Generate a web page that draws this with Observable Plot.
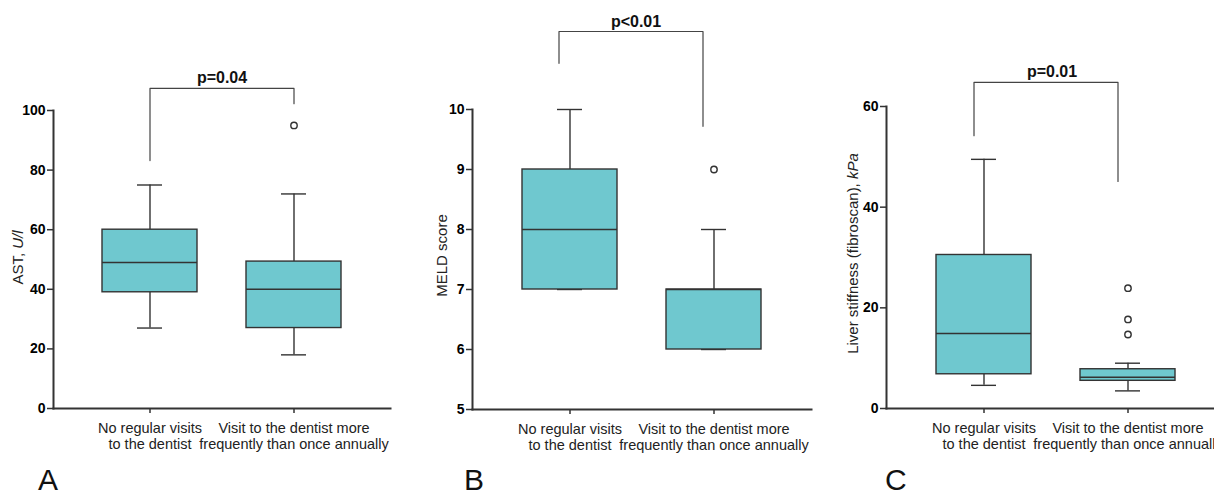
<!DOCTYPE html>
<html><head><meta charset="utf-8">
<script src="https://cdn.jsdelivr.net/npm/d3@7"></script>
<script src="https://cdn.jsdelivr.net/npm/@observablehq/plot@0.6"></script>
<style>
body{margin:0;background:#fff;font-family:"Liberation Sans",Arial,sans-serif;}
#wrap{position:relative;width:1214px;height:494px;overflow:hidden;background:#fff;}
.panel{position:absolute;top:0;}
.letter{position:absolute;font-size:30px;line-height:24px;color:#111;font-family:"Liberation Sans",Arial,sans-serif;}
</style></head><body><div id="wrap"></div>
<script>
// ---- data ----
const categories = ["No regular visits\nto the dentist", "Visit to the dentist more\nfrequently than once annually"];

// Panel A: AST, U/l
const astMin = [27, 18];
const astQ1 = [39, 27];
const astMedian = [49, 40];
const astQ3 = [60, 49.3];
const astMax = [75, 72];
const astOutliers = [[], [95]];
const astTicks = [0, 20, 40, 60, 80, 100];
const astP = "p=0.04";

// Panel B: MELD score
const meldMin = [7, 6];
const meldQ1 = [7, 6];
const meldMedian = [8, 7];
const meldQ3 = [9, 7];
const meldMax = [10, 8];
const meldOutliers = [[], [9]];
const meldTicks = [5, 6, 7, 8, 9, 10];
const meldP = "p<0.01";

// Panel C: Liver stiffness (fibroscan), kPa
const lsMin = [4.6, 3.5];
const lsQ1 = [6.8, 5.5];
const lsMedian = [14.9, 6.2];
const lsQ3 = [30.5, 7.8];
const lsMax = [49.5, 9.0];
const lsOutliers = [[], [23.9, 17.7, 14.7]];
const lsTicks = [0, 20, 40, 60];
const lsP = "p=0.01";

const TEAL = "#6fc8cf";
const INK = "#333";

function panel(cfg) {
  const rows = categories.map((c, i) => ({cat: c, min: cfg.min[i], q1: cfg.q1[i], median: cfg.median[i], q3: cfg.q3[i], max: cfg.max[i]}));
  const outl = categories.flatMap((c, i) => cfg.outliers[i].map(v => ({cat: c, v})));
  const b = cfg.bracket;
  const brPts = [
    {cat: categories[0], y: b.leftLow}, {cat: categories[0], y: b.top},
    {cat: categories[1], y: b.top}, {cat: categories[1], y: b.rightLow}
  ];
  const plot = Plot.plot({
    width: cfg.width, height: 494,
    marginLeft: cfg.ml, marginRight: cfg.mr, marginTop: cfg.mt, marginBottom: cfg.mb,
    style: {fontFamily: "'Liberation Sans', Arial, sans-serif", fontSize: "14px", color: "#111", background: "transparent", overflow: "visible"},
    x: {type: "band", domain: categories, padding: 0.34, label: null},
    y: {domain: cfg.domain, label: null},
    marks: [
      Plot.ruleX(rows, {x: "cat", y1: "min", y2: "q1", stroke: INK, strokeWidth: 1.4}),
      Plot.ruleX(rows, {x: "cat", y1: "q3", y2: "max", stroke: INK, strokeWidth: 1.4}),
      Plot.tickY(rows, {x: "cat", y: "min", insetLeft: 35, insetRight: 35, stroke: INK, strokeWidth: 1.4}),
      Plot.tickY(rows, {x: "cat", y: "max", insetLeft: 35, insetRight: 35, stroke: INK, strokeWidth: 1.4}),
      Plot.barY(rows, {x: "cat", y1: "q1", y2: "q3", fill: TEAL, stroke: INK, strokeWidth: 1.4}),
      Plot.tickY(rows, {x: "cat", y: "median", stroke: INK, strokeWidth: 1.4}),
      Plot.dot(outl, {x: "cat", y: "v", r: 3.2, stroke: INK, fill: "white", strokeWidth: 1.4}),
      Plot.line(brPts, {x: "cat", y: "y", stroke: "#444", strokeWidth: 1.2, dx: b.dx}),
      Plot.text([b], {x: () => categories[0], y: "top", text: "label", dx: b.textDx, dy: -5, lineAnchor: "bottom", fontWeight: "bold", fontSize: 16, fill: "#111"}),
      Plot.axisY({ticks: cfg.ticks, tickFormat: d => String(d), tickSize: 6, tickPadding: 2, fontWeight: "bold", fontSize: 14, label: null, stroke: INK, strokeWidth: 1.5, fill: "#000"}),
      Plot.axisX({tickSize: 5, tickPadding: 8, fontSize: 14.5, lineHeight: 1.12, label: null, stroke: INK, strokeWidth: 1.5, fill: "#222"}),
      Plot.frame({anchor: "left", stroke: INK, strokeWidth: 2}),
      Plot.frame({anchor: "bottom", stroke: INK, strokeWidth: 2}),
      Plot.text([cfg.ylabel.join("")], {frameAnchor: "left", textAnchor: "middle", rotate: -90, dx: cfg.ylabelDx, dy: cfg.ylabelDy, fontSize: 15, fill: "#222"})
    ]
  });
  plot.classList.add("panel");
  plot.style.left = cfg.left + "px";
  // italic unit part of the y label
  const full = cfg.ylabel.join("");
  d3.select(plot).selectAll("text").filter(function() { return this.textContent === full; }).each(function() {
    const t = d3.select(this);
    t.text(null);
    t.append("tspan").text(cfg.ylabel[0]);
    if (cfg.ylabel[1]) t.append("tspan").attr("font-style", "italic").text(cfg.ylabel[1]);
  });
  return plot;
}

const wrap = document.getElementById("wrap");

wrap.appendChild(panel({
  left: 0, width: 400, ml: 53, mr: 10, mt: 110, mb: 86,
  domain: [0, 100], ticks: astTicks,
  min: astMin, q1: astQ1, median: astMedian, q3: astQ3, max: astMax, outliers: astOutliers,
  bracket: {top: 107.4, leftLow: 83.2, rightLow: 102.3, label: astP, dx: 0, textDx: 72},
  ylabel: ["AST, ", "U/l"], ylabelDx: -35, ylabelDy: -2
}));

wrap.appendChild(panel({
  left: 400, width: 420, ml: 72, mr: 9, mt: 109, mb: 85,
  domain: [5, 10], ticks: meldTicks,
  min: meldMin, q1: meldQ1, median: meldMedian, q3: meldQ3, max: meldMax, outliers: meldOutliers,
  bracket: {top: 11.3, leftLow: 10.77, rightLow: 9.72, label: meldP, dx: -11, textDx: 66},
  ylabel: ["MELD score", ""], ylabelDx: -30, ylabelDy: -4
}));

wrap.appendChild(panel({
  left: 820, width: 410, ml: 66, mr: 5, mt: 106, mb: 86,
  domain: [0, 60], ticks: lsTicks,
  min: lsMin, q1: lsQ1, median: lsMedian, q3: lsQ3, max: lsMax, outliers: lsOutliers,
  bracket: {top: 64.8, leftLow: 54.2, rightLow: 45.1, label: lsP, dx: -10, textDx: 68},
  ylabel: ["Liver stiffness (fibroscan), ", "kPa"], ylabelDx: -33, ylabelDy: -4
}));

[["A", 38], ["B", 464], ["C", 885]].forEach(([t, x]) => {
  const d = document.createElement("div");
  d.className = "letter";
  d.textContent = t;
  d.style.left = x + "px";
  d.style.top = "468px";
  wrap.appendChild(d);
});
</script>
</body></html>
